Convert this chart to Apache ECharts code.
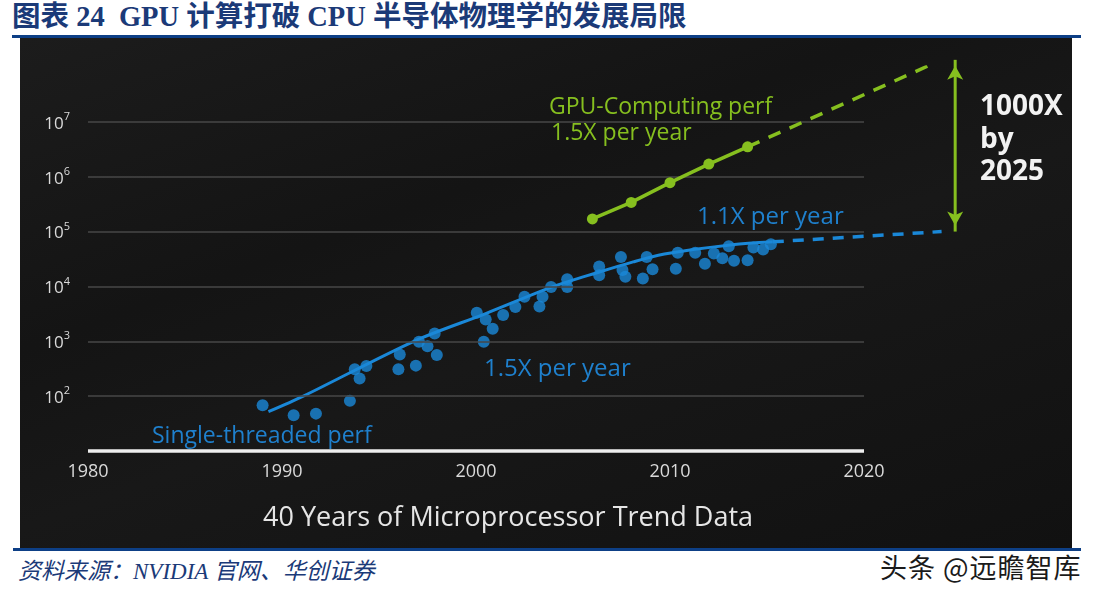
<!DOCTYPE html>
<html>
<head>
<meta charset="utf-8">
<script src="https://cdn.jsdelivr.net/npm/echarts@6/dist/echarts.min.js"></script>
<style>
  html, body { margin: 0; padding: 0; background: #ffffff; }
  #wrap { position: relative; width: 1102px; height: 594px; overflow: hidden; }
  #title { position: absolute; left: 12px; top: 1px; font: bold 28.5px "Liberation Serif", "Noto Sans CJK SC", serif; color: #1b3a78; white-space: nowrap; line-height: 32px; }
  #topline { position: absolute; left: 12px; top: 35px; width: 1069px; height: 3px; background: #0d3f86; }
  #panel { position: absolute; left: 20px; top: 38px; width: 1052px; height: 510px;
           background: linear-gradient(160deg, #1c1c1c 0%, #141414 35%, #181818 55%, #111111 100%); }
  #botline { position: absolute; left: 13px; top: 548px; width: 1068px; height: 3px; background: #0d3f86; }
  #source { position: absolute; left: 18px; top: 558px; font: italic 23px "Liberation Serif", "Noto Sans CJK SC", serif; color: #1b3a78; white-space: nowrap; line-height: 28px; }
  #mark { position: absolute; left: 880px; top: 551px; font: 27px "Noto Sans CJK SC", sans-serif; letter-spacing: 1px; color: #1a1a1a; white-space: nowrap; line-height: 32px; }
  #c { position: absolute; left: 0; top: 0; width: 1102px; height: 594px; }
</style>
</head>
<body>
<div id="wrap">
  <div id="title">图表 24&nbsp; GPU 计算打破 CPU 半导体物理学的发展局限</div>
  <div id="topline"></div>
  <div id="panel"></div>
  <div id="botline"></div>
  <div id="source">资料来源：NVIDIA 官网、华创证券</div>
  <div id="mark">头条 @远瞻智库</div>
  <div id="c"></div>
</div>
<script>
// ---- data ----
const xTickYears = [1980, 1990, 2000, 2010, 2020];
const yTickExponents = [2, 3, 4, 5, 6, 7];

// GPU-computing performance (green)
const gpuYears = [2006, 2008, 2010, 2012, 2014];
const gpuPerf  = [1.7e5, 3.4e5, 7.8e5, 1.7e6, 3.5e6];
const gpuProjYears = [2014, 2024];
const gpuProjPerf  = [3.5e6, 1.35e8];

// Single-threaded CPU trend line (blue)
const cpuTrendYears = [1989.3, 1991.1, 1996.8, 2000.5, 2004.0, 2006.4, 2008.1, 2009.4, 2011.2, 2012.9, 2014.6, 2015.3];
const cpuTrendPerf  = [52, 100, 1000, 3200, 10000, 18500, 28000, 37000, 47000, 56000, 63000, 65000];
const cpuProjYears = [2015.3, 2024];
const cpuProjPerf  = [65000, 100000];

// Single-threaded CPU data points (blue dots)
const cpuYears = [1989.0, 1990.6, 1991.75, 1993.5, 1993.75, 1994.0, 1994.35, 1996.0, 1996.07, 1996.9,
                  1997.06, 1997.5, 1997.87, 1997.98, 2000.04, 2000.5, 2000.4, 2000.86, 2001.4, 2002.03,
                  2002.5, 2003.27, 2003.43, 2003.87, 2004.7, 2004.7, 2006.35, 2006.35, 2007.47, 2007.55,
                  2007.7, 2008.8, 2009.1, 2008.6, 2010.4, 2010.3, 2011.3, 2011.8, 2012.26, 2012.7,
                  2013.03, 2013.3, 2014.0, 2014.3, 2014.8, 2015.2];
const cpuPerf  = [68, 45, 48, 82, 310, 210, 355, 310, 575, 360,
                  980, 810, 1380, 560, 3300, 2500, 980, 1700, 3000, 4200,
                  6500, 4300, 6500, 9800, 9800, 13500, 23000, 16000, 34500, 20000,
                  15000, 34500, 20600, 14000, 41000, 21000, 41000, 26000, 40000, 32500,
                  54000, 29500, 30000, 51000, 47000, 59000];

// "1000X by 2025" double arrow endpoints
const arrowYears = [2024.7, 2024.7];
const arrowPerf  = [1.35e8, 1.0e5];

// axis ranges
const xMin = 1980, xAxisEnd = 2020, xMax = 2025;
const yMin = 10, yMax = 1e8;

// ---- chart ----
const BLUE = '#1a88d8';
const BLUE_TEXT = '#1f80cd';
const GREEN = '#86bf1f';
const FONT = '"Open Sans", "Noto Sans", sans-serif';
const pair = (xs, ys) => xs.map((x, i) => [x, ys[i]]);

const chart = echarts.init(document.getElementById('c'), null, { renderer: 'canvas', width: 1102, height: 594 });

// horizontal grid lines and the white baseline, drawn only across 1980-2020
const gridLineData = yTickExponents.map(e => [
  { coord: [xMin, Math.pow(10, e)] }, { coord: [xAxisEnd, Math.pow(10, e)] }
]);
const baselineData = [[{ coord: [xMin, yMin] }, { coord: [xAxisEnd, yMin] }]];

const option = {
  animation: false,
  backgroundColor: 'transparent',
  grid: { left: 88, top: 67, width: 873, height: 384 },
  xAxis: {
    type: 'value', min: xMin, max: xMax, interval: 10,
    axisLine: { show: false },
    axisTick: { show: false },
    splitLine: { show: false },
    axisLabel: { color: '#dadada', fontSize: 18, fontFamily: FONT, margin: 12,
                 formatter: v => xTickYears.includes(v) ? String(v) : '' }
  },
  yAxis: {
    type: 'log', logBase: 10, min: yMin, max: yMax,
    axisLine: { show: false },
    axisTick: { show: false },
    splitLine: { show: false },
    axisLabel: {
      margin: 18,
      formatter: v => {
        const e = Math.round(Math.log10(v));
        return yTickExponents.includes(e) ? '{b|10}{s|' + e + '}' : '';
      },
      rich: {
        b: { color: '#dadada', fontSize: 17, fontFamily: FONT, lineHeight: 21, verticalAlign: 'bottom' },
        s: { color: '#dadada', fontSize: 11, fontFamily: FONT, lineHeight: 12, verticalAlign: 'top' }
      }
    }
  },
  series: [
    { name: 'gridLines', type: 'line', data: [], z: 1, silent: true,
      markLine: { silent: true, symbol: ['none', 'none'], label: { show: false },
                  lineStyle: { color: '#474747', width: 1.5, type: 'solid' },
                  emphasis: { disabled: true }, data: gridLineData } },
    { name: 'baseline', type: 'line', data: [], z: 1, silent: true,
      markLine: { silent: true, symbol: ['none', 'none'], label: { show: false },
                  lineStyle: { color: '#eeeeee', width: 3.5, type: 'solid' },
                  emphasis: { disabled: true }, data: baselineData } },
    { name: 'cpuDots', type: 'scatter', data: pair(cpuYears, cpuPerf),
      symbol: 'circle', symbolSize: 12, itemStyle: { color: BLUE }, z: 3 },
    { name: 'cpuTrend', type: 'line', data: pair(cpuTrendYears, cpuTrendPerf),
      showSymbol: false, smooth: 0.3, lineStyle: { color: BLUE, width: 3 }, z: 4 },
    { name: 'cpuProj', type: 'line', data: pair(cpuProjYears, cpuProjPerf),
      showSymbol: false, lineStyle: { color: BLUE, width: 3.5, type: [11, 9] }, z: 4 },
    { name: 'gpu', type: 'line', data: pair(gpuYears, gpuPerf),
      symbol: 'circle', symbolSize: 11, showSymbol: true,
      lineStyle: { color: GREEN, width: 3.5 }, itemStyle: { color: GREEN }, z: 5 },
    { name: 'gpuProj', type: 'line', data: pair(gpuProjYears, gpuProjPerf),
      showSymbol: false, lineStyle: { color: GREEN, width: 3.5, type: [13, 10] }, z: 5 },
    { name: 'arrow', type: 'line', clip: false,
      data: [
        { value: [arrowYears[0], arrowPerf[0]], symbolRotate: 0, symbolOffset: [0, 6] },
        { value: [arrowYears[1], arrowPerf[1]], symbolRotate: 180, symbolOffset: [0, -6] }
      ],
      symbol: 'arrow', symbolSize: [12, 14], showSymbol: true,
      lineStyle: { color: GREEN, width: 3 }, itemStyle: { color: GREEN }, z: 5 }
  ],
  graphic: [
    { type: 'text', x: 549, y: 107, silent: true,
      style: { text: 'GPU-Computing perf', fill: GREEN, font: '23px ' + FONT, verticalAlign: 'middle' } },
    { type: 'text', x: 551, y: 133, silent: true,
      style: { text: '1.5X per year', fill: GREEN, font: '23px ' + FONT, verticalAlign: 'middle' } },
    { type: 'text', x: 697, y: 217, silent: true,
      style: { text: '1.1X per year', fill: BLUE_TEXT, font: '24px ' + FONT, verticalAlign: 'middle' } },
    { type: 'text', x: 484, y: 369, silent: true,
      style: { text: '1.5X per year', fill: BLUE_TEXT, font: '24px ' + FONT, verticalAlign: 'middle' } },
    { type: 'text', x: 152, y: 436, silent: true,
      style: { text: 'Single-threaded perf', fill: BLUE_TEXT, font: '23px ' + FONT, verticalAlign: 'middle' } },
    { type: 'text', x: 980, y: 107, silent: true,
      style: { text: '1000X', fill: '#f2f2f2', font: 'bold 28px ' + FONT, verticalAlign: 'middle' } },
    { type: 'text', x: 980, y: 140, silent: true,
      style: { text: 'by', fill: '#f2f2f2', font: 'bold 28px ' + FONT, verticalAlign: 'middle' } },
    { type: 'text', x: 980, y: 172, silent: true,
      style: { text: '2025', fill: '#f2f2f2', font: 'bold 28px ' + FONT, verticalAlign: 'middle' } },
    { type: 'text', x: 263, y: 518, silent: true,
      style: { text: '40 Years of Microprocessor Trend Data', fill: '#e6e6e6', font: '27px ' + FONT, verticalAlign: 'middle' } }
  ]
};
chart.setOption(option);
</script>
</body>
</html>
